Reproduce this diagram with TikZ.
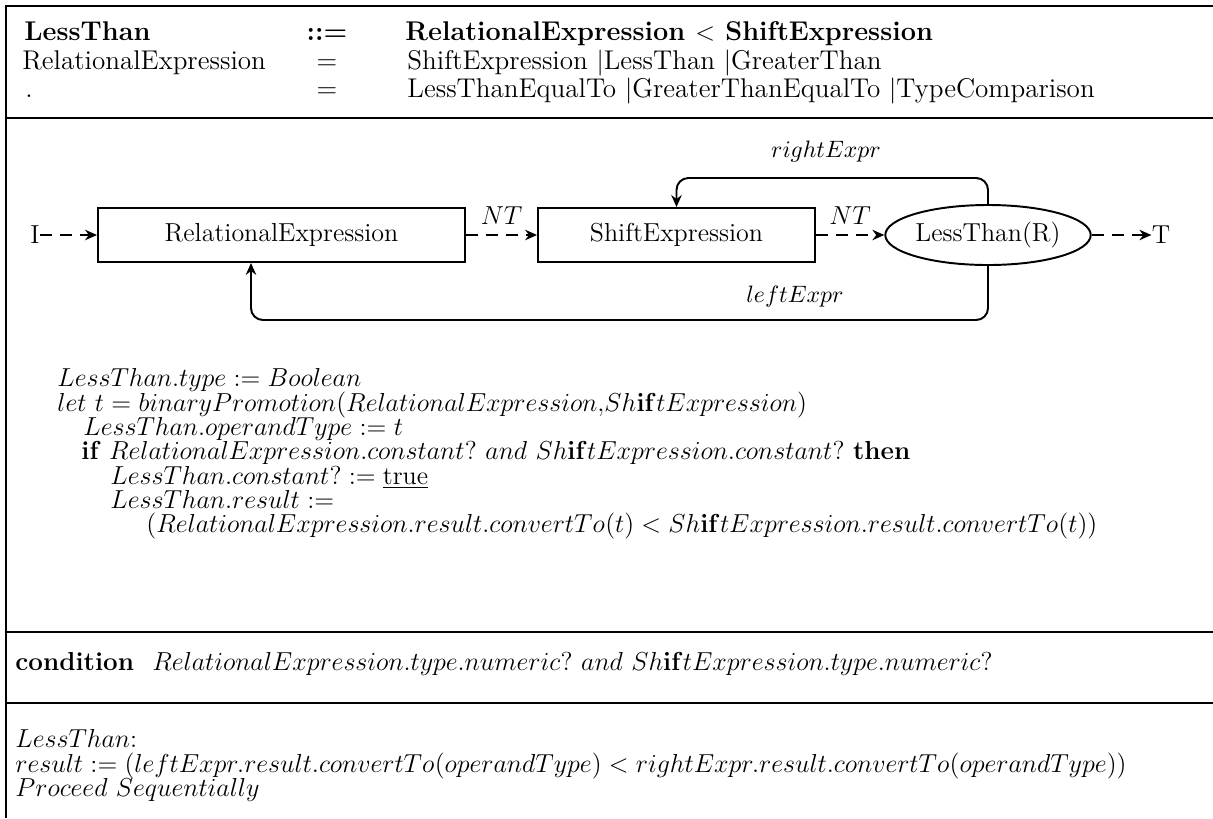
\documentclass[tikz,border=0pt]{standalone}
\usetikzlibrary{arrows.meta,shapes.geometric}
\begin{document}
\begin{tikzpicture}[x=0.4615pt,y=-0.4615pt,
  txt/.style={font=\fontsize{12}{14.4}\selectfont, inner sep=0pt},
  headtxt/.style={font=\fontsize{12.5}{15}\selectfont, inner sep=0pt},
  edgelabel/.style={font=\fontsize{10.95}{13}\selectfont, inner sep=0pt},
  lefttxt/.style={txt, anchor=base west},
  headleft/.style={headtxt, anchor=base west},
  headmid/.style={headtxt, anchor=base},
  rule/.style={line width=1.1pt},
  stepbox/.style={draw, line width=0.9pt, rectangle, txt, minimum height=24.9pt},
  oval/.style={draw, line width=0.9pt, ellipse, txt, minimum width=92.3pt, minimum height=27.7pt},
  flow/.style={line width=0.9pt, -{Stealth[length=5.5pt,width=4.8pt]}},
  dashflow/.style={flow, dash pattern=on 5.5pt off 3.7pt},
  link/.style={flow, rounded corners=5.5pt},
]
\useasboundingbox (0,0) rectangle (1213,818);

% frame and section rules
\draw[rule] (6,818) -- (6,6) -- (1213,6);
\draw[rule] (6,118) -- (1213,118);
\draw[rule] (6,632) -- (1213,632);
\draw[rule] (6,703) -- (1213,703);

% grammar rule
\node[headleft] (h1l) at (24,40) {\textbf{LessThan}};
\node[headmid]  (h1m) at (327,40) {\textbf{::=}};
\node[headleft] (h1r) at (405,40) {\textbf{RelationalExpression $<$ ShiftExpression}};
\node[headleft] (h2l) at (22,69) {RelationalExpression};
\node[headmid]  (h2m) at (327,69) {=};
\node[headleft] (h2r) at (407,69) {ShiftExpression $|$LessThan $|$GreaterThan};
\node[headleft] (h3l) at (25,97) {.};
\node[headmid]  (h3m) at (327,97) {=};
\node[headleft] (h3r) at (407,97) {LessThanEqualTo $|$GreaterThanEqualTo $|$TypeComparison};

% evaluation graph
\node[stepbox, minimum width=169.4pt] (rel) at (281.5,235) {RelationalExpression};
\node[stepbox, minimum width=127.8pt] (shift) at (676.5,235) {ShiftExpression};
\node[oval] (lt) at (988,235) {LessThan(R)};
\node[txt] (in) at (35,235) {I};
\node[txt] (out) at (1161,235) {T};

\draw[dashflow] (in.east) -- (rel.west);
\draw[dashflow] (rel.east) -- node[midway, above=4.5pt, txt] (nt1) {$NT$} (shift.west);
\draw[dashflow] (shift.east) -- node[midway, above=4.5pt, txt] (nt2) {$NT$} (lt.west);
\draw[dashflow] (lt.east) -- (out.west);

\coordinate (rtop) at (0,178);
\coordinate (lbot) at (251,320);
\draw[link] (lt.north) |- (shift.north |- rtop) -- (shift.north);
\draw[link] (lt.south) |- (lbot) -- (lbot |- rel.south);
\node[edgelabel] (rlab) at (826,152) {$rightExpr$};
\node[edgelabel] (llab) at (795,297) {$leftExpr$};

% attribute rules
\node[lefttxt] (c1) at (57,386) {$LessThan.type := Boolean$};
\node[lefttxt] (c2) at (57,411) {$let\ t = binaryPromotion(RelationalExpression{,}Sh\mathbf{if}tExpression)$};
\node[lefttxt] (c3) at (83,435) {$LessThan.operandType := t$};
\node[lefttxt] (c4) at (81,459) {\textbf{if} $RelationalExpression.constant?\ and\ Sh\mathbf{if}tExpression.constant?$ \textbf{then}};
\node[lefttxt] (c5) at (110,484) {$LessThan.constant? := \underline{\mathrm{true}}$};
\node[lefttxt] (c6) at (110,508) {$LessThan.result :=$};
\node[lefttxt] (c7) at (146,532) {$(RelationalExpression.result.convertTo(t) < Sh\mathbf{if}tExpression.result.convertTo(t))$};

% condition
\node[lefttxt] (cond) at (15,670) {\textbf{condition}\hspace{0.7em}$RelationalExpression.type.numeric?\ and\ Sh\mathbf{if}tExpression.type.numeric?$};

% execution
\node[lefttxt] (e1) at (15,747) {$LessThan{:}$};
\node[lefttxt] (e2) at (15,772) {$result := (leftExpr.result.convertTo(operandType) < rightExpr.result.convertTo(operandType))$};
\node[lefttxt] (e3) at (15,796) {$Proceed\ Sequentially$};
\end{tikzpicture}
\end{document}
